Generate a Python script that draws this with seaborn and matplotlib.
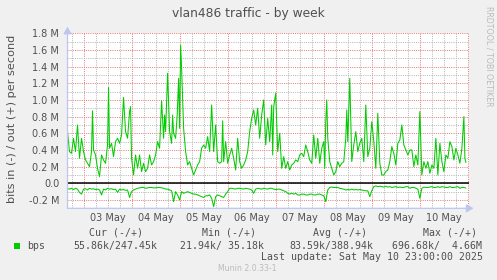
import matplotlib
matplotlib.use("Agg")
import matplotlib.pyplot as plt
import seaborn as sns
from matplotlib.ticker import MultipleLocator, FuncFormatter
from matplotlib.patches import Rectangle

# ---------------- data (hours after 03 May 00:00, values in Mbit/s) ----------------
out_hours = [-8, -7, -6, -5, -4, -3, -2, -1, 0, 1, 2, 3, 4, 4.5, 5, 6, 7, 8, 9, 10, 11, 12, 12.5, 13,
             14, 15, 16, 17, 18, 19, 20, 21, 22, 23, 23.5, 24, 25, 26, 27, 28, 29, 30, 31, 32, 33,
             34, 35, 36, 37, 38, 39, 40, 40.5, 41, 42, 43, 44, 44.5, 45, 46, 46.8, 47.5, 48, 48.5,
             49, 50, 51, 52, 53, 54, 55, 56, 57, 58, 59, 60, 61, 62, 63, 64, 65, 66, 67, 68, 69,
             69.5, 70, 71, 72, 73, 74, 75, 76, 77, 78, 79, 80, 81, 82, 83, 84, 85, 86, 87, 88, 89,
             90, 91, 92, 93, 94, 94.5, 95, 96, 97, 98, 99, 100, 101, 102, 103, 104, 105, 106, 107,
             108, 109, 110, 111, 112, 113, 114, 115, 116, 117, 118, 119, 120, 120.5, 121, 121.5,
             122, 123, 124, 125, 126, 127, 128, 129, 130, 131, 131.5, 132, 133, 134, 135, 136, 137,
             138, 139, 140, 141, 142, 143, 144, 145, 146, 147, 148, 149, 150, 151, 152, 153, 154,
             155, 156, 157, 158, 159, 160, 161, 162, 163, 164, 165, 166, 167, 168, 169, 170, 171,
             172, 173, 174, 175, 176, 177, 178, 179, 180, 181, 182, 183, 184, 185, 186, 187, 188,
             189, 190, 190.5, 191]
out_vals = [.62, .38, .36, .54, .38, .70, .30, .54, .38, .28, .24, .20, .38, .87, .40, .34, .18, .08,
            .34, .28, .24, .46, 1.15, .42, .48, .32, .50, .54, .48, .58, 1.03, .62, .54, .86, .92,
            .30, .10, .34, .18, .34, .14, .24, .14, .18, .34, .22, .26, .34, .50, .42, .99, .54, .82,
            .62, 1.32, .62, .48, .82, .60, .54, .82, 1.26, .66, 1.66, 1.38, .66, .38, .22, .26, .18,
            .10, .16, .22, .26, .42, .46, .42, .56, .38, .94, .38, .70, .26, .24, .26, .75, .26, .50,
            .24, .34, .42, .30, .16, .54, .26, .18, .22, .28, .38, .62, .78, .88, .70, .90, .54, .82,
            1.00, .46, .78, .50, .94, .34, .92, 1.08, .38, .60, .18, .32, .18, .26, .16, .22, .24,
            .28, .26, .34, .36, .32, .46, .38, .28, .24, .58, .30, .54, .24, .42, .50, .18, .74,
            1.00, .54, .26, .18, .10, .14, .26, .20, .24, .26, .54, .88, .50, 1.26, .26, .46, .62,
            .38, .48, .54, .26, .94, .32, .42, .74, .50, .18, .84, .24, .10, .10, .14, .16, .26, .44,
            .36, .22, .48, .52, .70, .46, .40, .34, .40, .40, .20, .34, .22, .86, .10, .26, .18, .26,
            .12, .22, .18, .54, .10, .48, .26, .14, .34, .30, .50, .44, .28, .42, .34, .24, .42, .80,
            .30, .25]

in_start_hour = -8  # hourly samples from 02 May 16:00
in_vals = [.065, .07, .06, .075, .06, .07, .11, .13,
           .07, .065, .08, .06, .07, .065, .075, .07, .08, .14, .07, .08, .06, .07, .065, .075,
           .07, .11, .07, .08, .075, .085, .08, .17,
           .10, .08, .07, .06, .055, .05, .05, .06, .055, .05, .05, .055, .055, .05, .05, .055,
           .06, .07, .07, .08, .09, .22, .10, .14,
           .20, .10, .12, .11, .10, .11, .12, .13, .13, .14, .15, .16, .17, .15, .15, .14,
           .18, .28, .16, .14, .15, .16, .17, .13,
           .10, .06, .06, .065, .07, .06, .06, .065, .07, .06, .065, .07, .08, .12, .07, .06,
           .065, .07, .06, .065, .07, .06, .06, .07,
           .075, .07, .07, .08, .09, .10, .12, .13, .12, .13, .12, .14, .14, .13, .13, .14,
           .14, .13, .13, .14, .14, .13, .13, .14,
           .15, .22, .08, .05, .045, .05, .05, .05, .06, .065, .07, .08, .075, .08, .07, .08,
           .075, .08, .075, .08, .085, .09, .09, .16,
           .09, .04, .03, .04, .035, .04, .045, .035, .045, .04, .05, .045, .04, .05, .045, .05,
           .05, .04, .04, .06, .05, .05, .06, .07,
           .18, .06, .045, .05, .05, .045, .04, .05, .05, .04, .05, .04, .045, .05, .05, .04,
           .05, .05, .045, .04, .06, .05, .05, .056]
in_hours = [in_start_hour + i for i in range(len(in_vals))]

day_labels = ["03 May", "04 May", "05 May", "06 May", "07 May", "08 May", "09 May", "10 May"]

title = "vlan486 traffic - by week"
ylabel = "bits in (-) / out (+) per second"
legend_rows = [
    ("Cur (-/+)", "55.86k/247.45k"),
    ("Min (-/+)", "21.94k/ 35.18k"),
    ("Avg (-/+)", "83.59k/388.94k"),
    ("Max (-/+)", "696.68k/  4.66M"),
]
last_update = "Last update: Sat May 10 23:00:00 2025"

# ---------------- style ----------------
sns.set_theme(style="white")
plt.rcParams['font.family'] = ['DejaVu Sans']

W, H = 497, 280
BG = '#F0F0F0'
TXT = '#505050'
GREEN = '#00CC00'
AXC = '#BCC6F0'

fig = plt.figure(figsize=(W / 100, H / 100), dpi=100, facecolor=BG)
fx = lambda x: x / W
fy = lambda y: 1 - y / H

ax = fig.add_axes([fx(67.5), fy(208.3), (468.5 - 67.5) / W, (208.3 - 33.3) / H])
ax.set_facecolor('white')

sns.lineplot(x=out_hours, y=out_vals, ax=ax, color=GREEN, lw=0.75, sort=False)
sns.lineplot(x=in_hours, y=[-v for v in in_vals], ax=ax, color=GREEN, lw=0.75, sort=False)
ax.axhline(0, color='black', lw=1.1, zorder=3)

ax.set_xlim(-8, 192.3)
ax.set_ylim(-0.3, 1.8)

ax.xaxis.set_major_locator(MultipleLocator(24))
ax.xaxis.set_minor_locator(MultipleLocator(6))
ax.yaxis.set_major_locator(MultipleLocator(0.2))
ax.yaxis.set_minor_locator(MultipleLocator(0.1))
ax.set_axisbelow(True)
dot = (0, (1, 1.2))
ax.grid(which='minor', color='#B8B8B8', linestyle=dot, lw=0.72)
ax.grid(which='major', color='#E87C7C', linestyle=dot, lw=0.72)

ax.xaxis.set_major_formatter(FuncFormatter(lambda v, p: ""))
ax.tick_params(axis='x', which='both', length=2, width=0.7, color='#C8C8C8', direction='out')
ax.yaxis.set_major_formatter(FuncFormatter(lambda v, p: "0.0" if abs(v) < 1e-9 else f"{v:.1f} M"))
ax.tick_params(axis='y', which='both', length=0, pad=6, labelsize=7, labelcolor=TXT)
for s in ax.spines.values():
    s.set_visible(False)
ax.set_xlabel("")
ax.set_ylabel("")

sec = ax.secondary_xaxis('bottom')
sec.set_xticks([24 * i + 12 for i in range(len(day_labels))], labels=day_labels)
sec.tick_params(length=0, pad=3.5, labelsize=7, labelcolor=TXT)
for s in sec.spines.values():
    s.set_visible(False)

# axes with arrows
ax.annotate('', xy=(0, 1 + 6.6 / 175), xytext=(0, 0), xycoords='axes fraction',
            arrowprops=dict(arrowstyle='-|>,head_length=0.35,head_width=0.2', color=AXC, lw=0.9,
                            shrinkA=0, shrinkB=0), annotation_clip=False)
ax.annotate('', xy=(1 + 5 / 401, 0), xytext=(0, 0), xycoords='axes fraction',
            arrowprops=dict(arrowstyle='-|>,head_length=0.35,head_width=0.2', color=AXC, lw=0.9,
                            shrinkA=0, shrinkB=0), annotation_clip=False)

# texts
fig.text(0.5, fy(13), title, ha='center', va='center', fontsize=8.8, color=TXT)
fig.text(fx(12), fy(119), ylabel, ha='center', va='center', rotation=90, fontsize=8.1, color=TXT)
fig.text(fx(489), fy(56.5), "RRDTOOL / TOBI OETIKER", ha='center', va='center', rotation=270,
         fontsize=5.7, color='#BBBBBB')
fig.text(fx(247.5), fy(268.3), "Munin 2.0.33-1", ha='center', va='center', fontsize=5.6, color='#BBBBBB')

mono = dict(family='DejaVu Sans Mono', fontsize=7.1, color=TXT, va='center')
fig.add_artist(Rectangle((fx(14), fy(248.5)), 6 / W, 5.8 / H, transform=fig.transFigure,
                         color=GREEN, lw=0))
fig.text(fx(27), fy(246), "bps", **mono)
head_x = [89, 201.7, 312.7, 423]
val_x = [73, 180, 289, 391.7]
for (hd, vl), hx, vx in zip(legend_rows, head_x, val_x):
    fig.text(fx(hx), fy(232.7), hd, **mono)
    fig.text(fx(vx), fy(246), vl, **mono)
fig.text(fx(482.7), fy(257.3), last_update, ha='right', **mono)

fig.savefig("out.png", dpi=100, facecolor=BG)
